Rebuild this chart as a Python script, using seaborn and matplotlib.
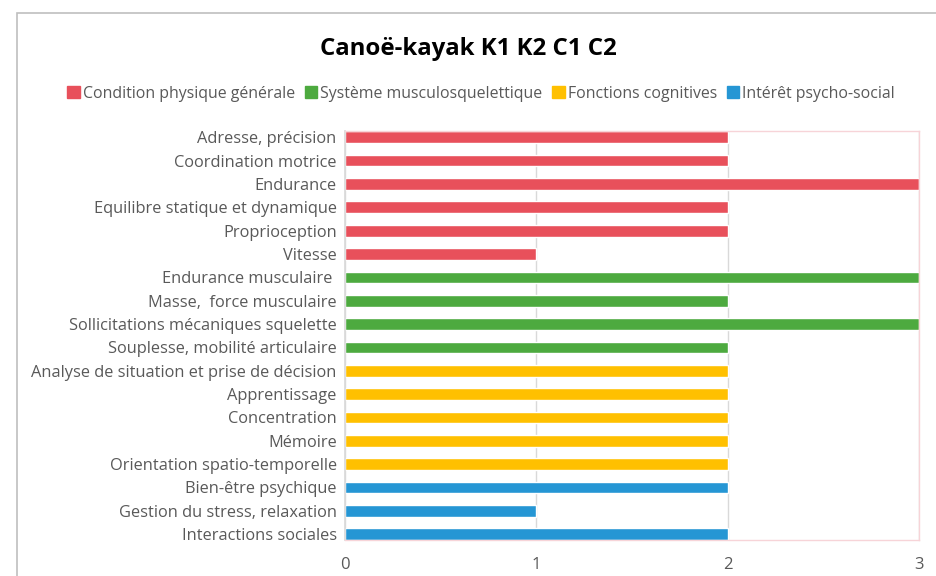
import pandas as pd
import matplotlib.pyplot as plt
import seaborn as sns
from matplotlib.patches import Rectangle, Patch

# Data
items = [
    "Adresse, précision", "Coordination motrice", "Endurance",
    "Equilibre statique et dynamique", "Proprioception", "Vitesse",
    "Endurance musculaire ", "Masse,  force musculaire",
    "Sollicitations mécaniques squelette", "Souplesse, mobilité articulaire",
    "Analyse de situation et prise de décision", "Apprentissage",
    "Concentration", "Mémoire", "Orientation spatio-temporelle",
    "Bien-être psychique", "Gestion du stress, relaxation",
    "Interactions sociales",
]
scores = [2, 2, 3, 2, 2, 1, 3, 2, 3, 2, 2, 2, 2, 2, 2, 2, 1, 2]
groups = (["Condition physique générale"] * 6 + ["Système musculosquelettique"] * 4
          + ["Fonctions cognitives"] * 5 + ["Intérêt psycho-social"] * 3)
group_names = ["Condition physique générale", "Système musculosquelettique",
               "Fonctions cognitives", "Intérêt psycho-social"]
group_colors = ["#E8505B", "#4DAA3F", "#FFC000", "#2596D4"]

df = pd.DataFrame({"item": items, "score": scores, "group": groups})

sns.set_theme(style="white")
plt.rcParams["font.family"] = ["Open Sans", "DejaVu Sans"]

fig = plt.figure(figsize=(9.36, 5.76), dpi=100)
ax = fig.add_axes([0.3686, 0.0625, 0.6132, 0.7101])

sns.barplot(data=df, y="item", x="score", hue="group", hue_order=group_names,
            palette=group_colors, saturation=1, dodge=False, width=0.5,
            orient="h", legend=False, ax=ax)

ax.set_xlim(0, 3)
ax.set_ylim(17.25, -0.27)
ax.set_xticks([0, 1, 2, 3])
ax.set_xlabel("")
ax.set_ylabel("")
ax.xaxis.grid(True, color="#D9D9D9", linewidth=1)
ax.set_axisbelow(True)
ax.tick_params(axis="x", colors="#595959", labelsize=12, length=0, pad=12)
ax.tick_params(axis="y", colors="#595959", labelsize=11.8, length=0, pad=6)
for lab in ax.get_xticklabels() + ax.get_yticklabels():
    lab.set_color("#595959")
for side in ["top", "right", "bottom"]:
    ax.spines[side].set_color("#F7D4D8")
    ax.spines[side].set_linewidth(1)
ax.spines["left"].set_color("#D9D9D9")

fig.text(0.5, 0.915, "Canoë-kayak K1 K2 C1 C2", ha="center", va="center",
         fontsize=17.3, fontweight="bold", color="black")

handles = [Patch(facecolor=c, edgecolor=c) for c in group_colors]
fig.legend(handles, group_names, loc="center", bbox_to_anchor=(0.514, 0.837),
           ncol=4, frameon=False, fontsize=11.4, handlelength=0.8, handleheight=0.8,
           handletextpad=0.2, columnspacing=0.6, labelcolor="#595959")

# outer chart frame
fig.patches.append(Rectangle((17 / 936, -0.01), 1.0, 1 - 13 / 576 + 0.01,
                             transform=fig.transFigure, fill=False,
                             edgecolor="#BFBFBF", linewidth=1.2))

fig.savefig("out.png", dpi=100)
